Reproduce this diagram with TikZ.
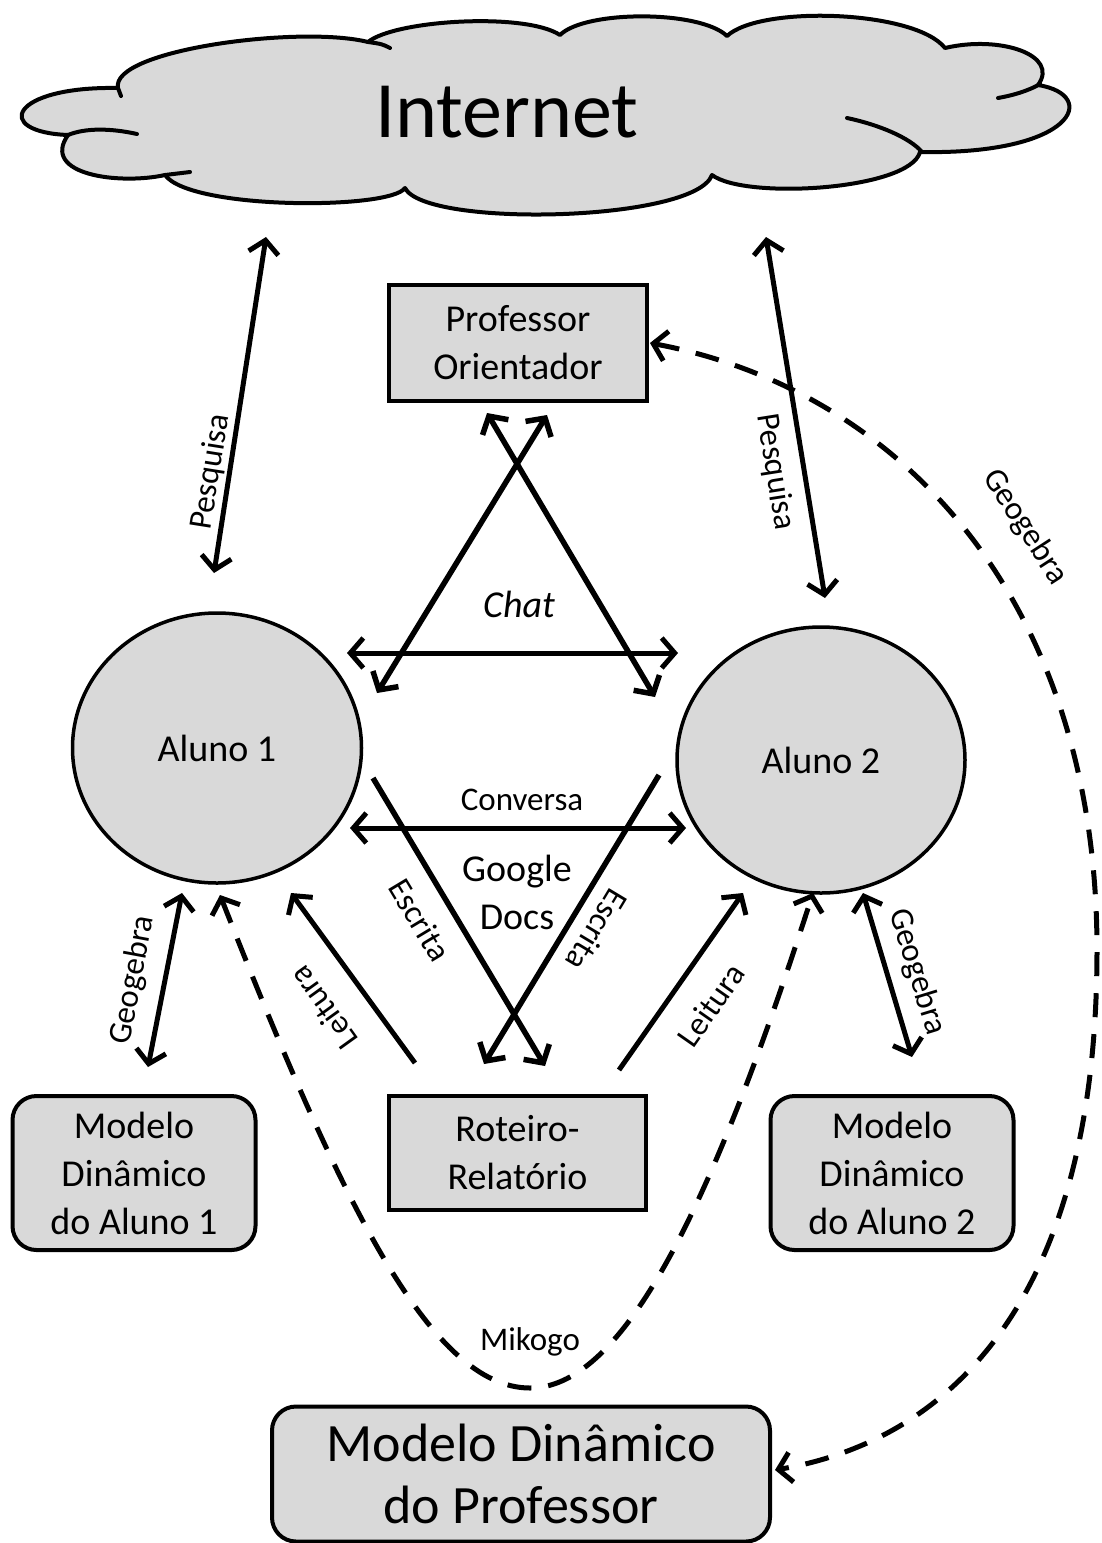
\documentclass[tikz,border=0pt]{standalone}
\usepackage{fontspec}
\setmainfont{Carlito}
\usetikzlibrary{arrows.meta,shapes.geometric}
\definecolor{boxgray}{HTML}{D9D9D9}
\begin{document}
\begin{tikzpicture}[x=1pt,y=-1pt,
  box/.style={draw,fill=boxgray,line width=4pt,inner sep=0pt},
  rbox/.style={box,rounded corners=24pt},
  main/.style={font=\fontsize{38}{48}\selectfont,align=center},
  lab/.style={font=\fontsize{33}{40}\selectfont,inner sep=0pt},
  barb/.tip={Straight Barb[length=13pt,width=30pt]},
  arr/.style={line width=5pt,barb-barb},
  sarr/.style={line width=5pt,-barb},
  darr/.style={line width=5pt,dash pattern=on 24pt off 17pt,barb-barb}
]
\useasboundingbox (0,0) rectangle (1102,1543);
% cloud
\filldraw[fill=boxgray,line width=4pt,line join=round]
  (118,88) .. controls (110,50) and (300,25) .. (368,42)
  .. controls (395,20) and (525,12) .. (560,35)
  .. controls (585,10) and (700,10) .. (727,36)
  .. controls (760,5) and (915,10) .. (945,48)
  .. controls (1000,35) and (1060,55) .. (1038,85)
  .. controls (1100,95) and (1075,155) .. (920,152)
  .. controls (910,190) and (745,200) .. (712,175)
  .. controls (695,222) and (425,228) .. (405,188)
  .. controls (390,210) and (190,210) .. (165,175)
  .. controls (120,185) and (40,175) .. (68,135)
  .. controls (-8,132) and (10,86) .. (118,88) -- cycle;
\draw[line width=4pt,line cap=round] (137,134) .. controls (110,128) and (85,128) .. (68,135);
\draw[line width=4pt,line cap=round] (190,172) -- (165,175);
\draw[line width=4pt,line cap=round] (847,118) .. controls (880,125) and (910,138) .. (922,152);
\draw[line width=4pt,line cap=round] (998,98) .. controls (1015,95) and (1030,90) .. (1040,84);
\draw[line width=4pt,line cap=round] (390,48) .. controls (382,44) .. (368,42);
\draw[line width=4pt,line cap=round] (118,88) -- (121,96);
\node[font=\fontsize{80}{90}\selectfont] (nettext) at (507,112) {Internet};
% boxes
\node[box,main,minimum width=258pt,minimum height=116pt] (prof) at (518,343) {Professor\\Orientador};
\node[box,main,minimum width=257pt,minimum height=114pt] (rot) at (517.5,1153) {Roteiro-\\Relatório};
\node[rbox,main,minimum width=243pt,minimum height=154pt] (ma1) at (134,1173) {Modelo\\Dinâmico\\do Aluno 1};
\node[rbox,main,minimum width=243pt,minimum height=154pt] (ma2) at (892,1173) {Modelo\\Dinâmico\\do Aluno 2};
\node[rbox,font=\fontsize{54}{62}\selectfont,align=center,minimum width=498pt,minimum height=135pt] (mp) at (521,1474) {Modelo Dinâmico\\do Professor};
% students
\node[ellipse,draw,fill=boxgray,line width=3.5pt,inner sep=0pt,minimum width=289pt,minimum height=270pt,main] (a1) at (217,748) {Aluno 1};
\node[ellipse,draw,fill=boxgray,line width=3.5pt,inner sep=0pt,minimum width=288pt,minimum height=266pt,main] (a2) at (821,760) {Aluno 2};
% endpoints
\coordinate (p1a) at (266,237); \coordinate (p1b) at (214,573);
\coordinate (p2a) at (766,237); \coordinate (p2b) at (825,598);
\coordinate (c1a) at (487,413); \coordinate (c1b) at (655,697);
\coordinate (c2a) at (547,415); \coordinate (c2b) at (377,693);
\coordinate (c3a) at (347,653); \coordinate (c3b) at (678,653);
\coordinate (cva) at (350,828); \coordinate (cvb) at (686,828);
\coordinate (e1a) at (373,778); \coordinate (e1b) at (545,1066);
\coordinate (e2a) at (659,775); \coordinate (e2b) at (484,1064);
\coordinate (l1a) at (415,1063); \coordinate (l1b) at (291,893);
\coordinate (l2a) at (619,1070); \coordinate (l2b) at (743,893);
\coordinate (g1a) at (182,893); \coordinate (g1b) at (148,1067);
\coordinate (g2a) at (863,893); \coordinate (g2b) at (912,1057);
\coordinate (m1) at (220,895); \coordinate (m2) at (813,893);
\coordinate (gpa) at (650,343); \coordinate (gpb) at (775,1470);
% arrows
\draw[arr] (p1a) -- (p1b);
\draw[arr] (p2a) -- (p2b);
\draw[arr,line width=5.5pt] (c1a) -- (c1b);
\draw[arr,line width=5.5pt] (c2a) -- (c2b);
\draw[arr] (c3a) -- (c3b);
\draw[arr] (cva) -- (cvb);
\draw[sarr,line width=5.5pt] (e1a) -- (e1b);
\draw[sarr,line width=5.5pt] (e2a) -- (e2b);
\draw[sarr] (l1a) -- (l1b);
\draw[sarr] (l2a) -- (l2b);
\draw[arr] (g1a) -- (g1b);
\draw[arr] (g2a) -- (g2b);
\draw[darr] (m1) .. controls (340,1200) and (430,1388) .. (530,1388) .. controls (630,1388) and (720,1180) .. (m2);
\draw[darr] (gpa) .. controls (900,390) and (1097,600) .. (1097,950) .. controls (1097,1300) and (950,1440) .. (gpb);
% labels
\node[lab,rotate=81] (lp1) at (211,472) {Pesquisa};
\node[lab,rotate=-81] (lp2) at (775,472) {Pesquisa};
\node[lab,rotate=-57] (lgp) at (1025,527) {Geogebra};
\node[main,font=\fontsize{38}{48}\selectfont\itshape] (lchat) at (519,604) {Chat};
\node[lab] (lconv) at (522,800) {Conversa};
\node[main] (lgd) at (517,892) {Google\\Docs};
\node[lab,rotate=-59] (le1) at (420,920) {Escrita};
\node[lab,rotate=-121] (le2) at (597,930) {Escrita};
\node[lab,rotate=125.7] (ll1) at (323,1008) {Leitura};
\node[lab,rotate=55] (ll2) at (711,1005) {Leitura};
\node[lab,rotate=79.5] (lg1) at (133,980) {Geogebra};
\node[lab,rotate=-73] (lg2) at (917,972) {Geogebra};
\node[lab] (lmik) at (530,1342) {Mikogo};
\end{tikzpicture}
\end{document}
